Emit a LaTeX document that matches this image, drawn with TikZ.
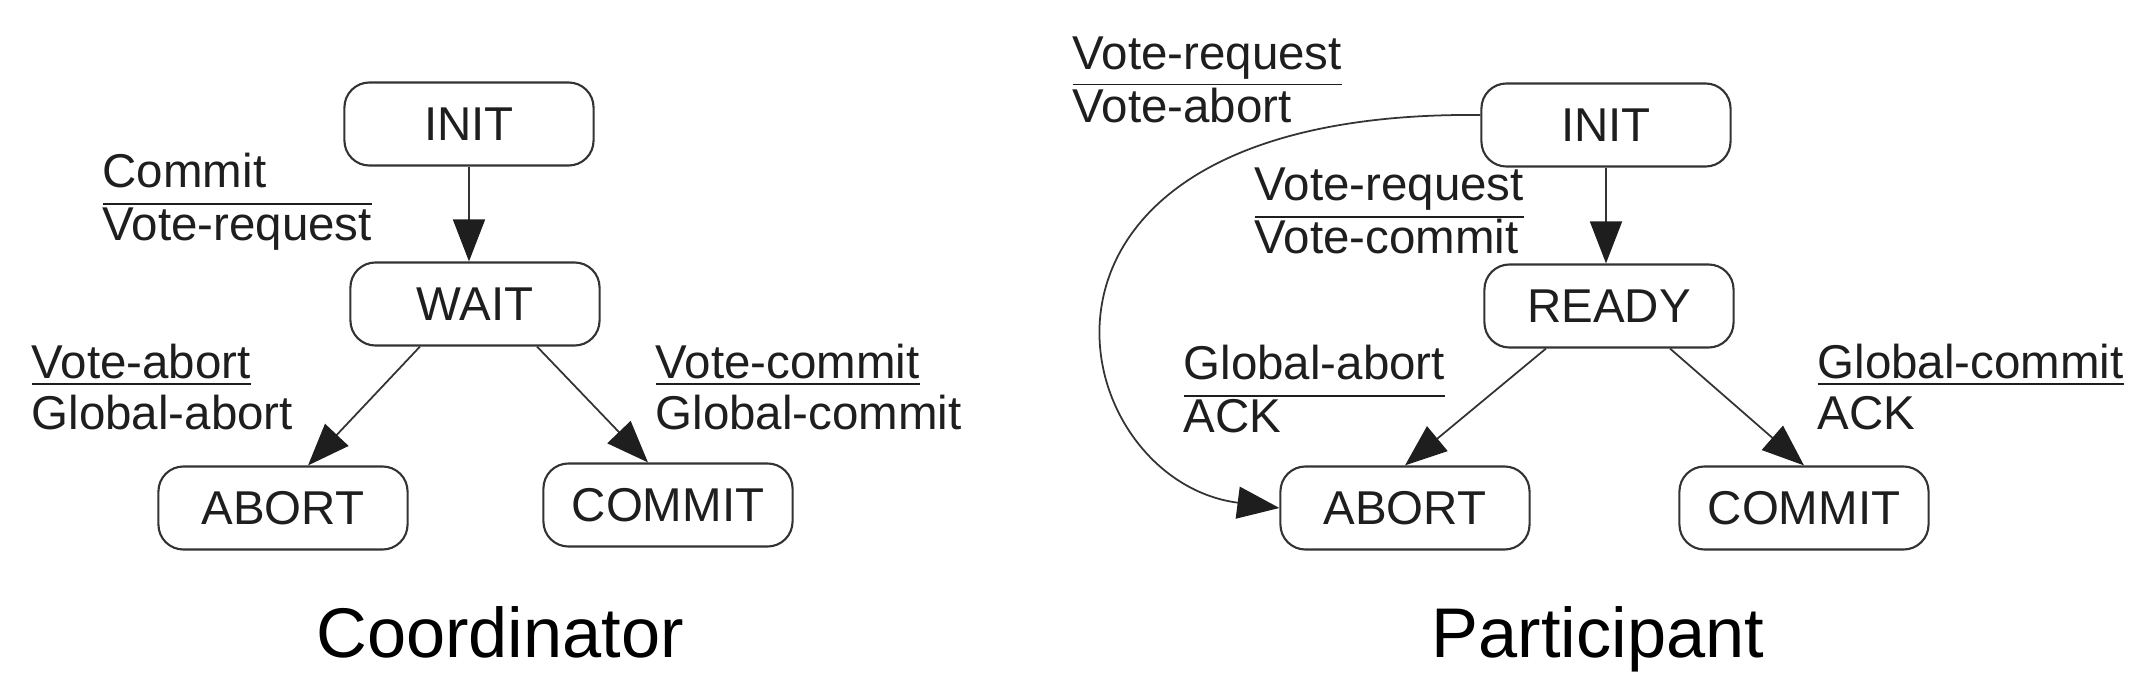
\documentclass[tikz,border=0pt]{standalone}
\usepackage{fontspec}
\setmainfont{Liberation Sans}
\usetikzlibrary{arrows.meta}

\definecolor{linegray}{HTML}{333333}
\definecolor{textgray}{HTML}{1E1E1E}

\newcommand{\statefont}{\fontsize{13.5}{14.5}\selectfont}
\newcommand{\titlefont}{\fontsize{20}{22}\selectfont}
\newcommand{\msgfrac}[2]{\begin{tabular}{@{}l@{}}#1\\\hline #2\end{tabular}}
\newcommand{\msgunder}[2]{\begin{tabular}{@{}l@{}}\underline{#1}\\#2\end{tabular}}

\tikzset{
  state/.style={draw=linegray, line width=0.6pt, rounded corners=0.25cm,
    minimum width=2.49cm, minimum height=0.83cm, text=textgray, font=\statefont},
  trans/.style={draw=linegray, line width=0.5pt,
    -{Triangle[length=0.42cm,width=0.32cm,color=textgray]}},
  msg/.style={anchor=west, inner sep=0pt, text=textgray, font=\statefont},
  title/.style={anchor=base, inner sep=0pt, text=black, font=\titlefont}
}

\begin{document}
\begin{tikzpicture}[x=0.01cm,y=-0.01cm]
  \useasboundingbox (0,0) rectangle (2144,682);

  % Coordinator
  \node[state] (cinit)   at (469,124) {INIT};
  \node[state] (cwait)   at (475,304) {WAIT};
  \node[state] (cabort)  at (283,508) {ABORT};
  \node[state] (ccommit) at (668,505) {COMMIT};

  \draw[trans] (cinit.south) -- (cinit.south |- cwait.north);
  \draw[trans] ([xshift=-0.55cm]cwait.south) -- ([xshift=0.25cm]cabort.north);
  \draw[trans] ([xshift=0.62cm]cwait.south) -- ([xshift=-0.2cm]ccommit.north);

  \node[msg] (cmsgreq)    at (102,204) {\msgfrac{Commit}{Vote-request}};
  \node[msg] (cmsgabort)  at (31,394)  {\msgunder{Vote-abort}{Global-abort}};
  \node[msg] (cmsgcommit) at (655,394) {\msgunder{Vote-commit}{Global-commit}};

  \node[title] (ctitle) at (500,657) {Coordinator};

  % Participant
  \node[state] (pinit)   at (1606,125) {INIT};
  \node[state] (pready)  at (1609,306) {READY};
  \node[state] (pabort)  at (1405,508) {ABORT};
  \node[state] (pcommit) at (1804,508) {COMMIT};

  \draw[trans] (pinit.south) -- (pinit.south |- pready.north);
  \draw[trans] ([xshift=-0.63cm]pready.south) -- (pabort.north);
  \draw[trans] ([xshift=0.61cm]pready.south) -- (pcommit.north);
  \draw[trans] ([yshift=0.1cm]pinit.west) .. controls (975,110) and (1060,480) .. (pabort.west);

  \node[msg] (pmsgabort)  at (1072,86)  {\msgunder{Vote-request}{Vote-abort}};
  \node[msg] (pmsgready)  at (1254,217) {\msgfrac{Vote-request}{Vote-commit}};
  \node[msg] (pmsgglobal) at (1183,396) {\msgfrac{Global-abort}{ACK}};
  \node[msg] (pmsgcommit) at (1817,394) {\msgunder{Global-commit}{ACK}};

  \node[title] (ptitle) at (1598,657) {Participant};
\end{tikzpicture}
\end{document}
